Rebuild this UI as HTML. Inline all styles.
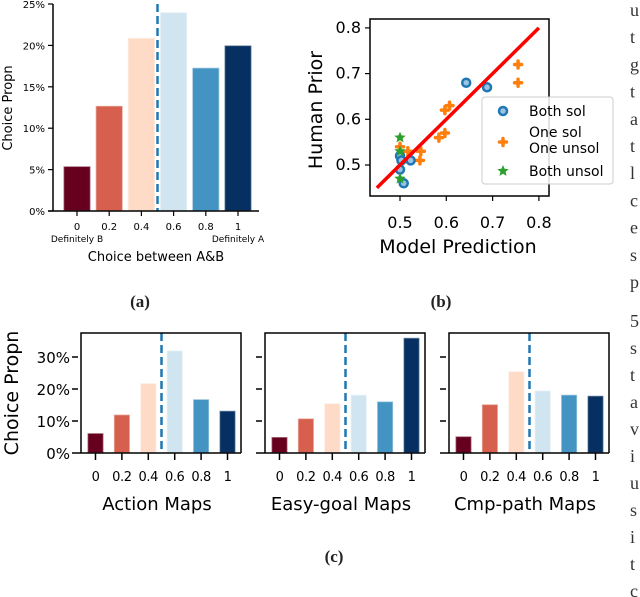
<!DOCTYPE html>
<html><head><meta charset="utf-8">
<style>
body{margin:0;background:#fff;}
svg{display:block;font-family:"DejaVu Sans","Liberation Sans",sans-serif;}
.side{font-family:"Liberation Serif",serif;font-size:18px;fill:#333;}
.cap{font-family:"Liberation Serif",serif;font-size:17px;font-weight:bold;fill:#222;}
</style></head>
<body>
<svg id="root" width="640" height="597" viewBox="0 0 640 597" xmlns="http://www.w3.org/2000/svg">
<g id="pa"></g>
<g id="pb"></g>
<g id="pc"></g>
<g id="side"></g>
<text class="cap" x="140" y="307" text-anchor="middle">(a)</text>
<text class="cap" x="441" y="307" text-anchor="middle">(b)</text>
<text class="cap" x="334" y="562" text-anchor="middle">(c)</text>
</svg>
<script>
const colors=["#67001f","#d6604d","#fddbc7","#d1e5f0","#4393c3","#053061"];
const choiceCats=["0","0.2","0.4","0.6","0.8","1"];
const aValues=[5.4,12.7,20.9,24.0,17.3,20.0];
const aTicks=[0,5,10,15,20,25];
const cTitles=["Action Maps","Easy-goal Maps","Cmp-path Maps"];
const cAction=[6.2,12.0,21.8,32.0,16.8,13.2];
const cEasy=[5.0,10.8,15.5,18.2,16.1,36.0];
const cCmp=[5.2,15.2,25.5,19.5,18.2,17.9];
const cTicks=[0,10,20,30];
const bTicks=[0.5,0.6,0.7,0.8];
const bothSolX=[0.643,0.688,0.5,0.503,0.523,0.5,0.508];
const bothSolY=[0.68,0.67,0.52,0.51,0.51,0.49,0.46];
const oneSolX=[0.755,0.755,0.597,0.607,0.584,0.597,0.545,0.543,0.5,0.517];
const oneSolY=[0.72,0.68,0.62,0.63,0.56,0.57,0.53,0.51,0.54,0.53];
const bothUnX=[0.5,0.5,0.5];
const bothUnY=[0.56,0.53,0.47];
const fitLine=[0.45,0.8];
const side1=["u","t","g","t","a","t","l","c","e","s","p"];
const side2=["5","s","t","a","v","i","u","s","i","t","c"];

const NS="http://www.w3.org/2000/svg";
function mk(p,tag,at,txt){const e=document.createElementNS(NS,tag);for(const k in at)e.setAttribute(k,at[k]);if(txt!==undefined)e.textContent=txt;p.appendChild(e);return e;}

// Panel A
(function(){
 const g=document.getElementById('pa');
 const x0=77,dx=32.2,bw=27,y0=211,yTop=4,ymax=25;
 const X=i=>x0+i*dx, Y=v=>y0-(y0-yTop)*v/ymax;
 aValues.forEach((v,i)=>{
  const b=mk(g,'rect',{x:X(i)-bw/2,y:Y(v),width:bw,height:y0-Y(v),fill:colors[i],stroke:'rgba(255,255,255,0.45)','stroke-width':1.5});
  
  
 });
 mk(g,'line',{x1:X(2.5),x2:X(2.5),y1:yTop,y2:y0,stroke:'#1f77b4','stroke-width':2.5,'stroke-dasharray':'8,4'});
 mk(g,'line',{x1:53,x2:53,y1:yTop,y2:y0,stroke:'#000','stroke-width':1.5});
 mk(g,'line',{x1:48,x2:259,y1:y0,y2:y0,stroke:'#000','stroke-width':1.5});
 aTicks.forEach(t=>{
  mk(g,'line',{x1:48,x2:53,y1:Y(t),y2:Y(t),stroke:'#000','stroke-width':1.2});
  const e=mk(g,'text',{x:45,y:Y(t)+4,'text-anchor':'end','font-size':10},t+'%');
  
  
 });
 choiceCats.forEach((c,i)=>{
  mk(g,'line',{x1:X(i),x2:X(i),y1:y0,y2:y0+5,stroke:'#000','stroke-width':1.2});
  const e=mk(g,'text',{x:X(i),y:230,'text-anchor':'middle','font-size':10},c);
  
  
 });
 mk(g,'text',{x:X(0),y:242,'text-anchor':'middle','font-size':9},'Definitely B');
 mk(g,'text',{x:X(5),y:242,'text-anchor':'middle','font-size':9},'Definitely A');
 const xl=mk(g,'text',{x:156,y:261,'text-anchor':'middle','font-size':13},'Choice between A&B');
 
 
 const yl=mk(g,'text',{x:0,y:0,'text-anchor':'middle','font-size':13,transform:'translate(12,108) rotate(-90)'},'Choice Propn');
 
 
})();

// Panel B
(function(){
 const g=document.getElementById('pb');
 const X=v=>400+(v-0.5)*463, Y=v=>165-(v-0.5)*457;
 mk(g,'rect',{x:370,y:19,width:179,height:177,fill:'none',stroke:'#000','stroke-width':1.5});
 bTicks.forEach(t=>{
  mk(g,'line',{x1:X(t),x2:X(t),y1:196,y2:201,stroke:'#000','stroke-width':1.2});
  mk(g,'text',{x:X(t),y:228,'text-anchor':'middle','font-size':16},String(t));
  mk(g,'line',{x1:365,x2:370,y1:Y(t),y2:Y(t),stroke:'#000','stroke-width':1.2});
  mk(g,'text',{x:361,y:Y(t)+5,'text-anchor':'end','font-size':16},String(t));
 });
 const xl=mk(g,'text',{x:458,y:253,'text-anchor':'middle','font-size':19},'Model Prediction');
 
 
 const yl=mk(g,'text',{x:0,y:0,'text-anchor':'middle','font-size':19,transform:'translate(322,110) rotate(-90)'},'Human Prior');
 
 
 oneSolX.forEach((x,i)=>{
  const p=mk(g,'path',{d:`M${X(x)-3.5},${Y(oneSolY[i])}h7M${X(x)},${Y(oneSolY[i])-3.5}v7`,stroke:'#ff7f0e','stroke-width':3.5,'stroke-linecap':'round'});
  
  
 });
 bothSolX.forEach((x,i)=>{
  const p=mk(g,'circle',{cx:X(x),cy:Y(bothSolY[i]),r:4,fill:'#9cc3e4',stroke:'#1f77b4','stroke-width':2.5});
  
  
 });
 function star(cx,cy,r){let d='';for(let k=0;k<10;k++){const a=-Math.PI/2+k*Math.PI/5,rr=k%2?r*0.45:r;d+=(k?'L':'M')+(cx+rr*Math.cos(a)).toFixed(1)+','+(cy+rr*Math.sin(a)).toFixed(1);}return d+'Z';}
 bothUnX.forEach((x,i)=>{
  const p=mk(g,'path',{d:star(X(x),Y(bothUnY[i]),6),fill:'#2ca02c'});
  
  
 });
 const fl=mk(g,'line',{x1:X(fitLine[0]),y1:Y(fitLine[0]),x2:X(fitLine[1]),y2:Y(fitLine[1]),stroke:'#ff0000','stroke-width':3.5});
 
 
 const lg=mk(g,'g',{});
 
 
 mk(lg,'rect',{x:482,y:97,width:131,height:87,rx:3,fill:'rgba(255,255,255,0.85)',stroke:'#ccc','stroke-width':1});
 mk(lg,'circle',{cx:503,cy:111,r:4,fill:'#9cc3e4',stroke:'#1f77b4','stroke-width':2.5});
 mk(lg,'text',{x:529,y:116,'font-size':14},'Both sol');
 mk(lg,'path',{d:'M499.5,142h7M503,138.5v7',stroke:'#ff7f0e','stroke-width':3.5,'stroke-linecap':'round'});
 mk(lg,'text',{x:529,y:137,'font-size':14},'One sol');
 mk(lg,'text',{x:529,y:153,'font-size':14},'One unsol');
 mk(lg,'path',{d:star(503,171,6),fill:'#2ca02c'});
 mk(lg,'text',{x:529,y:176,'font-size':14},'Both unsol');
})();

// Panel C
(function(){
 const g=document.getElementById('pc');
 const series=[cAction,cEasy,cCmp];
 const lefts=[81,265,449];
 const y0=453,yTop=333,ymax=37.5,dx=26.4,bw=16;
 const Y=v=>y0-(y0-yTop)*v/ymax;
 series.forEach((vals,p)=>{
  const L=lefts[p],R=L+160;
  const X=i=>L+14.5+i*dx;
  const sg=mk(g,'g',{});
  
  
  vals.forEach((v,i)=>{
   const b=mk(sg,'rect',{x:X(i)-bw/2,y:Y(v),width:bw,height:y0-Y(v),fill:colors[i],stroke:'rgba(255,255,255,0.45)','stroke-width':1.5});
   
   
  });
  mk(sg,'line',{x1:X(2.5),x2:X(2.5),y1:yTop,y2:y0,stroke:'#1f77b4','stroke-width':2.5,'stroke-dasharray':'8,4'});
  mk(sg,'path',{d:`M${L},${y0}V${yTop}H${R}V${y0}`,fill:'none',stroke:'#000','stroke-width':1.5});
  mk(sg,'line',{x1:L-9,x2:R,y1:y0,y2:y0,stroke:'#000','stroke-width':1.5});
  cTicks.forEach(t=>{
   if(t>0)mk(sg,'line',{x1:L-9,x2:L-3,y1:Y(t),y2:Y(t),stroke:'#000','stroke-width':1.5});
   if(p===0)mk(sg,'text',{x:L-11,y:Y(t)+6,'text-anchor':'end','font-size':15},t+'%');
  });
  choiceCats.forEach((c,i)=>{
   mk(sg,'line',{x1:X(i),x2:X(i),y1:y0,y2:y0+7,stroke:'#000','stroke-width':1.5});
   mk(sg,'text',{x:X(i),y:481,'text-anchor':'middle','font-size':13,'letter-spacing':'-0.4'},c);
  });
  const t=mk(sg,'text',{x:L+76,y:510,'text-anchor':'middle','font-size':18},cTitles[p]);
  
  
 });
 const yl=mk(g,'text',{x:0,y:0,'text-anchor':'middle','font-size':19,transform:'translate(18,393) rotate(-90)'},'Choice Propn');
 
 
})();

// margin text
(function(){
 const g=document.getElementById('side');
 side1.forEach((c,i)=>mk(g,'text',{x:630,y:16+i*27.2,class:'side'},c));
 side2.forEach((c,i)=>mk(g,'text',{x:630,y:327+i*27,class:'side'},c));
})();
</script>
</body></html>
